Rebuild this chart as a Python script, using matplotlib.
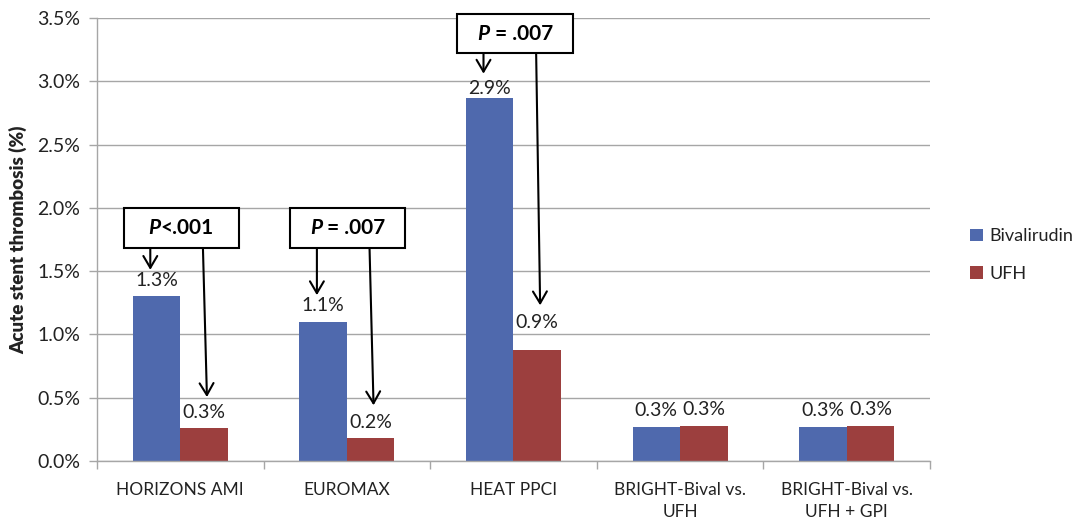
"""Acute stent thrombosis with bivalirudin vs. unfractionated heparin across trials."""

import matplotlib.pyplot as plt
import numpy as np
from matplotlib.patches import Rectangle
from matplotlib.offsetbox import TextArea, HPacker, AnnotationBbox

trials = ["HORIZONS AMI", "EUROMAX", "HEAT PPCI",
          "BRIGHT-Bival vs.\nUFH", "BRIGHT-Bival vs.\nUFH + GPI"]
bivalirudin = [1.3, 1.1, 2.87, 0.27, 0.27]
ufh = [0.26, 0.18, 0.88, 0.28, 0.28]

# significance callouts: trial index, p-value text
p_trials = [0, 1, 2]
p_texts = ["<.001", " = .007", " = .007"]

BLUE = "#4F69AD"
RED = "#9C3F3E"
GRID = "#A6A6A6"
TEXT = "#222222"

plt.rcParams["font.family"] = ["Lato", "DejaVu Sans"]

fig = plt.figure(figsize=(10.8, 5.21), dpi=100)
ax = fig.add_axes([0.0898, 0.1152, 0.7713, 0.8503])

x = np.arange(len(trials)) + 0.5
width = 0.285
bars_b = ax.bar(x - width / 2, bivalirudin, width, color=BLUE, label="Bivalirudin", zorder=2)
bars_u = ax.bar(x + width / 2, ufh, width, color=RED, label="UFH", zorder=2)

ax.set_xlim(0, len(trials))
ax.set_ylim(0, 3.5)
ax.set_yticks(np.arange(0, 3.51, 0.5))
ax.set_yticklabels([f"{v:.1f}%" for v in np.arange(0, 3.51, 0.5)])
ax.yaxis.grid(True, color=GRID, lw=1.0, zorder=0)

# category separators as major ticks, names on minor ticks
ax.set_xticks(np.arange(len(trials) + 1))
ax.set_xticklabels([])
ax.set_xticks(x, minor=True)
ax.set_xticklabels(trials, minor=True, linespacing=1.45)
ax.tick_params(axis="x", which="major", length=6, color=GRID, width=1.0)
ax.tick_params(axis="x", which="minor", length=0, pad=15, labelsize=12.5, labelcolor=TEXT)
ax.tick_params(axis="y", length=6, color=GRID, width=1.0, pad=6, labelsize=14, labelcolor=TEXT)

for side in ["top", "right"]:
    ax.spines[side].set_visible(False)
for side in ["left", "bottom"]:
    ax.spines[side].set_color(GRID)
    ax.spines[side].set_linewidth(1.0)

ax.set_ylabel("Acute stent thrombosis (%)", fontsize=13.5, fontweight="heavy", color=TEXT)
ax.yaxis.set_label_coords(-0.084, 0.5)

# value labels above each bar
label_lift = {(2, 0): 6.5, (2, 1): 19.5}
for j, bars in enumerate([bars_b, bars_u]):
    for i, bar in enumerate(bars):
        h = bar.get_height()
        ax.annotate(f"{h:.1f}%", xy=(bar.get_x() + bar.get_width() / 2, h),
                    xytext=(0, label_lift.get((i, j), 11.5)), textcoords="offset points",
                    ha="center", va="center", fontsize=14, color=TEXT)

# boxed p-values with arrows pointing to both bars
arrow_style = "->, head_length=0.85, head_width=0.5"
for i, txt in zip(p_trials, p_texts):
    top = 3.53 if i == 2 else 2.0
    box_h = 0.31 if i == 2 else 0.32
    left = i + 0.16
    box_w = 0.70 if i == 2 else 0.69
    ax.add_patch(Rectangle((left, top - box_h), box_w, box_h, facecolor="white",
                           edgecolor="black", lw=1.5, zorder=4, clip_on=False))
    pack = HPacker(children=[
        TextArea("P", textprops=dict(fontsize=15, fontweight="bold", fontstyle="italic", color="black")),
        TextArea(txt, textprops=dict(fontsize=15, fontweight="bold", color="black")),
    ], align="baseline", pad=0, sep=0)
    ab = AnnotationBbox(pack, (left + box_w / 2, top - box_h / 2), frameon=False,
                        box_alignment=(0.5, 0.5), zorder=5, annotation_clip=False)
    ax.add_artist(ab)

    bottom = top - box_h
    b_tip = bivalirudin[i] + (0.19 if i == 2 else 0.21)
    u_tip = ufh[i] + [0.245, 0.26, 0.35][i]
    ax.annotate("", xy=(i + 0.32, b_tip), xytext=(i + 0.32, bottom),
                arrowprops=dict(arrowstyle=arrow_style, lw=1.5, color="black",
                                shrinkA=0, shrinkB=0), zorder=3)
    ax.annotate("", xy=(i + 0.66, u_tip), xytext=(i + 0.636, bottom),
                arrowprops=dict(arrowstyle=arrow_style, lw=1.5, color="black",
                                shrinkA=0, shrinkB=0), zorder=3)

fig.legend(handles=[bars_b, bars_u], labels=["Bivalirudin", "UFH"],
           loc="center left", bbox_to_anchor=(0.883, 0.51), frameon=False,
           fontsize=13, handlelength=0.7, handleheight=0.7, handletextpad=0.4,
           labelspacing=1.2, labelcolor=TEXT)

fig.savefig("out.png", dpi=100)
